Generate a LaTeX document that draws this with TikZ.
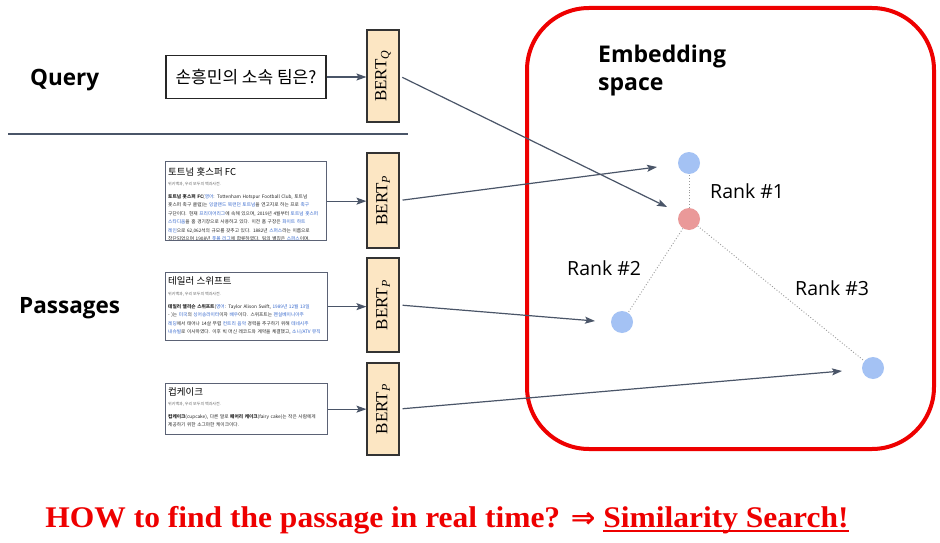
\documentclass[tikz,border=0pt]{standalone}
\usepackage{graphicx}
\usepackage{fontspec}
\setmainfont{Liberation Serif}
\newfontfamily\osans{Open Sans}
\newfontfamily\kr{Noto Sans CJK KR}
\newfontfamily\djv{DejaVu Sans}
\usetikzlibrary{arrows.meta}
\definecolor{arrowc}{HTML}{4A5568}
\definecolor{bertfill}{HTML}{FCE6C3}
\definecolor{dotblue}{HTML}{A4C2F4}
\definecolor{dotred}{HTML}{EA9999}
\definecolor{framered}{HTML}{EE0000}
\definecolor{linkc}{HTML}{3366CC}
\definecolor{passborder}{HTML}{5B6275}
\definecolor{subgray}{HTML}{666666}
\newcommand{\lk}[1]{\textcolor{linkc}{#1}}
\newsavebox{\ulbox}
\newcommand{\redul}[1]{\sbox{\ulbox}{#1}\rlap{\textcolor{framered}{\rule[-5pt]{\wd\ulbox}{2.2pt}}}\usebox{\ulbox}}
\newcommand{\howtext}{\color{framered}\scalebox{1.05}[1]{\color{framered}\fontsize{30}{33}\selectfont\bfseries HOW to find the passage in real time? {\djv\bfseries\fontsize{28}{30}\selectfont ⇒} \redul{Similarity Search!}}}
\begin{document}
\begin{tikzpicture}[x=1pt,y=-1pt,
  arr/.style={draw=arrowc, line width=1.2pt, -{Stealth[length=10pt,width=7pt,inset=2pt]}},
  bertbox/.style={draw=black!80, line width=1.1pt, fill=bertfill, inner sep=0pt, rotate=90, font=\fontsize{17}{19}\selectfont},
  passbox/.style={draw=passborder, line width=1.3pt, fill=white, inner sep=0pt, anchor=north west},
  ptitle/.style={anchor=base west, inner sep=0pt, font=\kr\fontsize{9.5}{11}\selectfont},
  psub/.style={anchor=base west, inner sep=0pt, text=subgray, font=\kr\fontsize{4}{5}\selectfont},
  pbody/.style={anchor=north west, inner sep=0pt, text width=154pt, align=left, text=black!85, font=\kr\fontsize{4.7}{8.5}\selectfont},
  sidelbl/.style={anchor=base west, inner sep=0pt, font=\osans\bfseries\fontsize{22.5}{26}\selectfont},
  ranklbl/.style={anchor=base west, inner sep=0pt, font=\osans\fontsize{19.5}{22}\selectfont},
  embdot/.style={circle, minimum size=22pt, inner sep=0pt},
  dotline/.style={draw=gray!80, line width=0.9pt, dotted}
]
\useasboundingbox (0,0) rectangle (940,543);
\fill[white] (0,0) rectangle (940,543);

% left labels
\node[sidelbl] (ql) at (30,85) {Query};
\node[sidelbl] (pl) at (19,313) {Passages};
\coordinate (sepa) at (8,134);
\coordinate (sepb) at (408,134);
\draw[draw=arrowc, line width=1.2pt] (sepa) -- (sepb);

% query box
\node[draw=black!85, line width=1.3pt, minimum width=160pt, minimum height=43pt, inner sep=0pt, font=\kr\fontsize{17}{20}\selectfont] (q) at (246,77) {손흥민의 소속 팀은?};

% BERT boxes (rotate=90: north = left side, south = right side)
\node[bertbox, minimum height=32pt, minimum width=92pt] (bq) at (383,76) {BERT\textsubscript{\textit{Q}}};
\node[bertbox, minimum height=32pt, minimum width=95pt] (bp1) at (383,200.5) {BERT\textsubscript{\textit{P}}};
\node[bertbox, minimum height=32pt, minimum width=94pt] (bp2) at (383,305) {BERT\textsubscript{\textit{P}}};
\node[bertbox, minimum height=32pt, minimum width=92pt] (bp3) at (383,409) {BERT\textsubscript{\textit{P}}};

% passages
\node[passbox, minimum width=161pt, minimum height=79pt] (p1) at (165,161) {};
\node[passbox, minimum width=162pt, minimum height=68pt] (p2) at (165,272) {};
\node[passbox, minimum width=162pt, minimum height=51pt] (p3) at (165,383) {};

\node[ptitle] (t1) at (168,175) {토트넘 홋스퍼 FC};
\node[psub] (s1) at (168,185) {위키백과, 우리 모두의 백과사전.};
\begin{scope}
\clip (166,162) rectangle (325,239);
\node[pbody] (b1) at (168,194) {\textbf{토트넘 홋스퍼 FC}(\lk{영어}: Tottenham Hotspur Football Club, 토트넘 홋스퍼 축구 클럽)는 \lk{잉글랜드 북런던 토트넘}을 연고지로 하는 프로 \lk{축구} 구단이다. 현재 \lk{프리미어리그}에 속해 있으며, 2019년 4월부터 \lk{토트넘 홋스퍼 스타디움}을 홈 경기장으로 사용하고 있다. 이전 홈 구장은 \lk{화이트 하트 레인}으로 62,062석의 규모를 갖추고 있다. 1882년 \lk{스퍼스}라는 이름으로 창단되었으며 1908년 \lk{풋볼 리그}에 합류하였다. 팀의 별칭은 \lk{스퍼스}이며, 1901년 \lk{FA컵}에서 우승하였다. \lk{잉글랜드 풋볼 리그} 역사상 처음으로 더블을 달성한 구단이다.};
\end{scope}

\node[ptitle] (t2) at (168,284) {테일러 스위프트};
\node[psub] (s2) at (168,295) {위키백과, 우리 모두의 백과사전.};
\begin{scope}
\clip (166,273) rectangle (326,336.5);
\node[pbody] (b2) at (168,304) {\textbf{테일러 앨리슨 스위프트}(\lk{영어}: Taylor Alison Swift, \lk{1989년 12월 13일} - )는 \lk{미국}의 \lk{싱어송라이터}이자 \lk{배우}이다. 스위프트는 \lk{펜실베이니아주 레딩}에서 태어나 14살 무렵 \lk{컨트리 음악} 경력을 추구하기 위해 \lk{테네시주 내슈빌}로 이사하였다. 이후 빅 머신 레코드와 계약을 체결했고, \lk{소니/ATV 뮤직 퍼블리싱}에서 작곡가로 활동하였다. 그 후 여러 장의 음반을 발매하였다.};
\end{scope}

\node[ptitle] (t3) at (168,395) {컵케이크};
\node[psub] (s3) at (168,405) {위키백과, 우리 모두의 백과사전.};
\node[pbody] (b3) at (168,414) {\textbf{컵케이크}(cupcake), 다른 말로 \textbf{페어리 케이크}(fairy cake)는 작은 사람에게 제공하기 위한 소그마한 케이크이다.};

% arrows into BERT
\draw[arr] (q.east) -- (q.east -| bq.north);
\draw[arr] (p1.east) -- (p1.east -| bp1.north);
\draw[arr] (p2.east) -- (p2.east -| bp2.north);
\draw[arr] (p3.east) -- (p3.east -| bp3.north);

% embedding space frame
\draw[framered, line width=4pt, rounded corners=62pt] (527,8) rectangle (934,449);
\node[anchor=north west, inner sep=0pt, align=left, font=\osans\bfseries\fontsize{23}{28}\selectfont] (es) at (598,45) {Embedding\\space};

% dots
\node[embdot, fill=dotblue] (d1) at (689,163) {};
\node[embdot, fill=dotred] (dr) at (689,219) {};
\node[embdot, fill=dotblue] (d2) at (622,322) {};
\node[embdot, fill=dotblue] (d3) at (873,368) {};
\draw[dotline] (dr) -- (d1);
\draw[dotline] (dr) -- (d2);
\draw[dotline] (dr) -- (d3);

\node[ranklbl] (r1) at (710,198) {Rank \#1};
\node[ranklbl] (r2) at (567,275) {Rank \#2};
\node[ranklbl] (r3) at (795,295) {Rank \#3};

% arrows into embedding space
\coordinate (eq) at (667,207);
\coordinate (e1) at (657,167);
\coordinate (e2) at (595,321);
\coordinate (e3) at (842,371);
\draw[arr, shorten <=3pt] (bq.south) -- (eq);
\draw[arr, shorten <=3pt] (bp1.south) -- (e1);
\draw[arr, shorten <=3pt] (bp2.south) -- (e2);
\draw[arr, shorten <=3pt] (bp3.south) -- (e3);

% bottom line
\node[anchor=base, inner sep=0pt, text=framered] (hw) at (447,527) {\howtext};
\end{tikzpicture}
\end{document}
